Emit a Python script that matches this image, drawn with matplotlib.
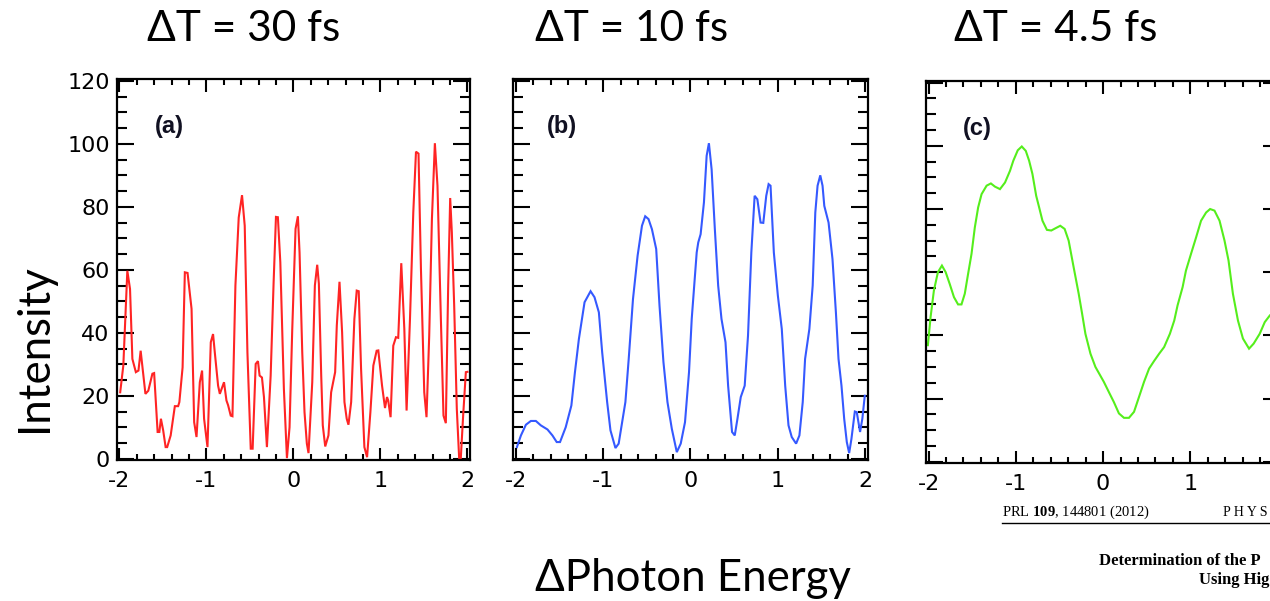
#!/usr/bin/env python3
import matplotlib.pyplot as plt
from matplotlib.lines import Line2D
from matplotlib.ticker import MultipleLocator

plt.rcParams["axes.unicode_minus"] = False
plt.rcParams["mathtext.fontset"] = "custom"
plt.rcParams["mathtext.rm"] = "Liberation Serif"
plt.rcParams["mathtext.bf"] = "Liberation Serif:bold"

# --- Datos ---
# (a) dT = 30 fs
energy_a = [
    -1.99, -1.954, -1.908, -1.877, -1.85, -1.81, -1.78, -1.755, -1.70, -1.667,
    -1.62, -1.60, -1.56, -1.54, -1.522, -1.496, -1.468, -1.45, -1.41, -1.362,
    -1.324, -1.31, -1.273, -1.247, -1.216, -1.17, -1.14, -1.113, -1.075, -1.049,
    -1.026, -0.987, -0.949, -0.923, -0.903, -0.865, -0.845, -0.797, -0.769, -0.75,
    -0.72, -0.70, -0.666, -0.628, -0.59, -0.559, -0.528, -0.49, -0.468, -0.433,
    -0.407, -0.388, -0.361, -0.338, -0.304, -0.261, -0.227, -0.2, -0.178, -0.15,
    -0.109, -0.074, -0.044, -0.013, 0.025, 0.052, 0.071, 0.102, 0.128, 0.155,
    0.174, 0.217, 0.247, 0.274, 0.293, 0.32, 0.338, 0.366, 0.403, 0.434,
    0.453, 0.48, 0.499, 0.53, 0.56, 0.587, 0.613, 0.633, 0.664, 0.701,
    0.728, 0.751, 0.778, 0.816, 0.847, 0.885, 0.919, 0.957, 0.976, 1.019,
    1.053, 1.076, 1.09, 1.117, 1.148, 1.179, 1.205, 1.24, 1.275, 1.301,
    1.34, 1.378, 1.409, 1.438, 1.466, 1.504, 1.53, 1.561, 1.592, 1.626,
    1.656, 1.695, 1.725, 1.752, 1.779, 1.802, 1.821, 1.848, 1.878, 1.905,
    1.924, 1.951, 1.982, 2.0,
]
intensity_a = [
    21.1, 29.6, 59.7, 53.9, 31.7, 27.5, 28, 34.3, 20.6, 21.6,
    27, 27.2, 8.5, 8.5, 12.7, 9, 3.7, 3.7, 7.4, 16.7,
    16.7, 18, 29, 59.2, 59, 47.6, 11.6, 6.9, 24.3, 28,
    12.7, 3.7, 37, 39.6, 33.8, 23.2, 20.6, 24.3, 18.5, 17,
    13.7, 13.5, 55, 76.6, 83.7, 74, 33.8, 3.2, 3.2, 30.1,
    31, 26.4, 25.8, 19.6, 3.7, 26.4, 56, 76.8, 76.7, 62.4,
    22.2, 0.2, 10, 41, 73, 77, 65.5, 33.8, 14.8, 4.8,
    1.8, 24.3, 55, 61.6, 55.6, 26.4, 10.6, 3.9, 7.4, 21.1,
    23.8, 27.5, 42.3, 56.2, 40.2, 18, 12.7, 10.8, 18, 44.4,
    53.4, 53.2, 28.5, 3.7, 0.5, 14.8, 29.6, 34.3, 34.4, 23.2,
    16.1, 19.6, 18.5, 13.2, 35.9, 38.6, 38.4, 62.1, 41.2, 15.3,
    44.4, 78.2, 97.5, 96.9, 60.2, 21.1, 13.2, 39.1, 76.1, 100.2,
    86.7, 44.4, 13.7, 11.3, 55, 82.8, 71.9, 48.6, 15.9, 0.2,
    0.2, 13.7, 27.5, 27.6,
]

# (b) dT = 10 fs
energy_b = [
    -1.989, -1.943, -1.886, -1.829, -1.772, -1.715, -1.639, -1.582, -1.533, -1.495,
    -1.43, -1.365, -1.324, -1.279, -1.214, -1.145, -1.1, -1.05, -1.012, -0.955,
    -0.917, -0.86, -0.823, -0.746, -0.708, -0.659, -0.606, -0.556, -0.519, -0.481,
    -0.442, -0.393, -0.355, -0.31, -0.264, -0.214, -0.157, -0.112, -0.063, -0.017,
    0.014, 0.071, 0.089, 0.116, 0.154, 0.185, 0.211, 0.242, 0.279, 0.317,
    0.355, 0.401, 0.431, 0.476, 0.507, 0.538, 0.576, 0.621, 0.659, 0.697,
    0.735, 0.766, 0.803, 0.834, 0.868, 0.895, 0.917, 0.955, 1.001, 1.046,
    1.085, 1.123, 1.16, 1.21, 1.248, 1.286, 1.313, 1.362, 1.4, 1.43,
    1.456, 1.487, 1.513, 1.533, 1.582, 1.627, 1.666, 1.696, 1.73, 1.761,
    1.791, 1.818, 1.844, 1.883, 1.905, 1.943, 1.969, 1.997,
]
intensity_b = [
    3.7, 7.4, 10.8, 12, 12, 10.6, 9.3, 7.4, 5.3, 5.3,
    10, 16.9, 27.5, 38, 49.7, 53.2, 51.3, 46.5, 33.8, 18,
    9, 3.4, 4.8, 18, 31.7, 50.7, 64.5, 74, 77, 76.1,
    72.9, 66.6, 48.6, 30.7, 18, 9.5, 2.1, 4.8, 11.6, 27.5,
    44.4, 65.5, 68.7, 71.3, 81.4, 96.2, 100.2, 91.9, 72.9, 55,
    44.4, 37, 23.2, 8.5, 7.4, 12.7, 19.6, 23.2, 39.1, 65.5,
    83.5, 82.4, 75, 74.9, 83.5, 87.2, 86.7, 65.5, 51.8, 41.2,
    23.2, 10.6, 6.9, 4.8, 7.4, 18, 31.7, 41.2, 55, 78.2,
    86.7, 90, 86.7, 80.3, 75, 63.4, 46.5, 31.7, 23.2, 12.7,
    5.3, 1.8, 6.3, 15, 14.8, 8.5, 12.7, 20,
]

# (c) dT = 4.5 fs
energy_c = [
    -2.008, -1.977, -1.939, -1.893, -1.847, -1.804, -1.758, -1.709, -1.662, -1.623,
    -1.585, -1.547, -1.508, -1.47, -1.432, -1.393, -1.335, -1.286, -1.24, -1.182,
    -1.124, -1.067, -1.029, -0.978, -0.932, -0.886, -0.848, -0.81, -0.767, -0.733,
    -0.695, -0.644, -0.594, -0.54, -0.491, -0.441, -0.395, -0.338, -0.28, -0.241,
    -0.203, -0.145, -0.088, 0.008, 0.074, 0.123, 0.181, 0.239, 0.296, 0.354,
    0.411, 0.469, 0.527, 0.584, 0.642, 0.699, 0.765, 0.815, 0.853, 0.911,
    0.949, 1.007, 1.065, 1.122, 1.18, 1.226, 1.276, 1.334, 1.391, 1.437,
    1.487, 1.545, 1.602, 1.672, 1.725, 1.794, 1.852, 1.91,
]
intensity_c = [
    36.9, 45.8, 54.2, 60, 62.1, 60, 56.3, 52.1, 49.8, 49.8,
    53.2, 59.5, 65.8, 74.2, 80.5, 84.7, 87.4, 88.1, 87.1, 86.3,
    88.4, 92.1, 95.3, 98.6, 99.8, 98.4, 95.3, 91.1, 84.2, 80.5,
    76.3, 73.4, 73.2, 74, 74.7, 73.7, 70, 61.6, 53.2, 46.9,
    40.5, 34.2, 30, 25.3, 21.6, 18.9, 15.3, 13.9, 13.9, 15.8,
    20.5, 25.3, 29.5, 31.9, 34.2, 36.3, 40.5, 44.7, 49.5, 55.3,
    60.5, 65.8, 71, 76.3, 78.9, 80, 79.5, 76.3, 70, 63.7,
    53.2, 44.7, 39, 35.8, 37.4, 40.5, 44.2, 46.3,
]

titles = ["\u0394T = 30 fs", "\u0394T = 10 fs", "\u0394T = 4.5 fs"]
panel_tags = ["(a)", "(b)", "(c)"]
x_ticks = [-2, -1, 0, 1, 2]
x_ticklabels = ["-2", "-1", "0", "1", "2"]

# --- Estilo ---
COLORS = ["#ff2424", "#3559ff", "#55ee1c"]
SANS = ["Lato", "DejaVu Sans"]
# [left, bottom, width, height] de cada panel en fraccion de figura
AX_RECTS = [
    [0.0919, 0.2346, 0.2782, 0.634],
    [0.4042, 0.2346, 0.2790, 0.634],
    [0.7291, 0.2296, 0.2790, 0.636],
]
TITLE_X = [0.192, 0.497, 0.831]
TAG_X = [0.108, 0.094, 0.105]


def style_axis(ax, show_ylabels: bool, cropped: bool):
    """Ejes al estilo IDL: ticks hacia dentro en los cuatro lados."""
    ax.set_xlim(-2.03, 2.03)
    ax.set_ylim(-0.4, 120.6)
    # el panel (c) queda cortado por el borde derecho de la imagen
    labels = x_ticklabels[:-1] + [""] if cropped else x_ticklabels
    ax.set_xticks(x_ticks, labels)
    ax.xaxis.set_minor_locator(MultipleLocator(0.2))
    ax.yaxis.set_major_locator(MultipleLocator(20))
    ax.yaxis.set_minor_locator(MultipleLocator(5))
    ax.tick_params(axis="both", which="both", direction="in",
                   top=True, right=True, width=1.5, colors="black")
    ax.tick_params(axis="x", which="major", length=9, pad=8, labelsize=16)
    ax.tick_params(axis="x", which="minor", length=4.5)
    ax.tick_params(axis="y", which="major", length=12, pad=5, labelsize=16)
    ax.tick_params(axis="y", which="minor", length=7)
    ax.tick_params(axis="y", labelleft=show_ylabels)
    for label in ax.get_xticklabels() + ax.get_yticklabels():
        label.set_family("DejaVu Sans")
    for spine in ax.spines.values():
        spine.set_linewidth(1.6)


def draw_figure():
    fig = plt.figure(figsize=(12.7, 6.01), dpi=100)

    series = [
        (energy_a, intensity_a),
        (energy_b, intensity_b),
        (energy_c, intensity_c),
    ]
    for i, (x, y) in enumerate(series):
        ax = fig.add_axes(AX_RECTS[i])
        ax.plot(x, y, color=COLORS[i], lw=1.5, solid_joinstyle="miter")
        style_axis(ax, show_ylabels=(i == 0), cropped=(i == 2))
        ax.text(TAG_X[i], 0.874, panel_tags[i], transform=ax.transAxes,
                ha="left", va="center", fontsize=17, fontweight="bold",
                family="Liberation Sans", color="#111122")
        fig.text(TITLE_X[i], 0.952, titles[i], ha="center", va="center",
                 fontsize=30.5, family=SANS)

    fig.text(0.027, 0.421, "Intensity", rotation=90, ha="center", va="center",
             fontsize=31.5, family=SANS)
    fig.text(0.546, 0.037, "\u0394Photon Energy", ha="center", va="center",
             fontsize=31.5, family=SANS)

    # Recorte de la cabecera del articulo (abajo a la derecha), tal como se ve
    fig.text(0.789, 0.141, r"PRL $\mathbf{109}$, 144801 (2012)",
             ha="left", va="baseline", fontsize=10.5, family="Liberation Serif")
    fig.text(0.963, 0.141, "P H Y S", ha="left", va="baseline",
             fontsize=10, family="Liberation Serif")
    fig.add_artist(Line2D([0.789, 1.0], [0.1306, 0.1306], color="black", lw=1))
    fig.text(0.8655, 0.060, "Determination of the P",
             ha="left", va="baseline", fontsize=12, fontweight="bold",
             family="Liberation Serif")
    fig.text(0.944, 0.028, "Using Hig",
             ha="left", va="baseline", fontsize=12, fontweight="bold",
             family="Liberation Serif")

    fig.savefig("out.png", dpi=100)


if __name__ == "__main__":
    draw_figure()
